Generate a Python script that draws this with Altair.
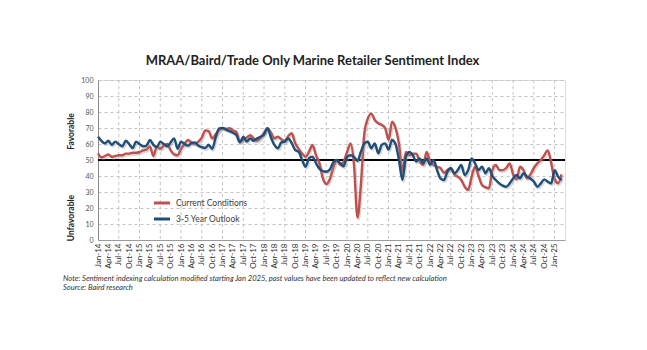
import altair as alt
import pandas as pd

# ---- data (monthly, Jan-14 .. Mar-25) ----
month_index = list(range(135))
current = [
    54.2, 51.7, 52.5, 53.5, 52, 52.5, 53, 53, 54, 54, 54.5, 54.5,
    55, 56, 56.5, 58.5, 52.5, 58.5, 57, 59, 60, 56, 53.5, 53,
    57, 60, 62.5, 61, 60, 61.5, 64, 68.5, 68, 63.5, 66, 68.5,
    70, 69.5, 69.8, 68.5, 67.5, 61.5, 62.5, 64, 65.5, 63.5, 62, 64,
    67, 69.8, 67, 63.5, 64.5, 63, 62, 65, 66.7, 60.4, 57, 54,
    52, 55.2, 59.4, 53, 47.9, 38.5, 35, 38, 45, 50, 47, 49,
    55, 60.4, 47, 14, 35, 67, 76, 79, 75, 73, 72, 70,
    62.5, 74, 70, 60, 42.7, 55, 53, 54, 54, 49, 47, 55,
    49, 47, 45.8, 45, 42, 43.7, 44.8, 41, 39.6, 37.5, 33.3, 31.3,
    39.6, 45.8, 40, 34.4, 33, 32.3, 43.7, 46.9, 43.7, 43.7, 45, 47.9,
    41, 38, 45.8, 43.7, 38.5, 41, 45, 48, 50, 53, 56, 48,
    38, 35.5, 41,
]
outlook = [
    64.6, 62, 60.5, 62, 59.5, 61.5, 60, 58.5, 62, 60, 57.5, 61.5,
    60, 58.5, 59, 62.5, 59.5, 58, 61.5, 60, 58.5, 61, 63.5, 57,
    61.5, 60, 59, 60.5, 61, 59, 58, 57.5, 59.5, 57, 64, 69.8,
    70, 69, 68, 67, 65.6, 61, 64.5, 61.5, 63.5, 62, 63.5, 64.5,
    66, 69.8, 64, 59.4, 57.3, 61, 61.5, 63.5, 60.5, 56.3, 55.2, 50,
    45.8, 51, 52.1, 48, 44.5, 43, 42.7, 44, 48.5, 50, 48, 46,
    52, 53, 52, 49.4, 55.2, 60.4, 61.4, 57.3, 60.4, 54.2, 59.4, 60.4,
    56.5, 62.5, 60, 50, 37.5, 52, 55, 53, 49, 51, 48, 51,
    47, 50, 43.7, 38.5, 37.5, 42.7, 44.8, 41.7, 43.7, 46.9, 40.6, 43.7,
    51, 47.9, 43.7, 45.8, 41.7, 44.8, 40, 37.5, 35.4, 34, 33.3, 35.4,
    38.5, 40.6, 38.5, 41.7, 39.6, 38.5, 36.5, 33.3, 35.4, 37.9, 36.5, 35.4,
    43.7, 39.6, 37.5,
]
assert len(current) == len(month_index) and len(outlook) == len(month_index)

series_names = ["Current Conditions", "3-5 Year Outlook"]
series_colors = ["#C0504D", "#1F4E79"]

tick_months = list(range(0, 133, 3))
tick_labels = [f"{m}-{y}" for y in range(14, 26) for m in ["Jan", "Apr", "Jul", "Oct"]][:len(tick_months)]
y_ticks = list(range(0, 101, 10))
grid_months = list(range(6, 133, 6))
threshold = [50]

title_text = "MRAA/Baird/Trade Only Marine Retailer Sentiment Index"
note_lines = [
    "Note: Sentiment indexing calculation modified  starting Jan 2025, past values have been updated to reflect new calculation",
    "Source: Baird research",
]
side_titles = ["Favorable", "Unfavorable"]

FONT = "Lato"
W, H = 467, 160

df = pd.DataFrame({
    "m": month_index * 2,
    "v": current + outlook,
    "s": [series_names[0]] * len(current) + [series_names[1]] * len(outlook),
})

label_js = "[" + ",".join(f"'{t}'" for t in tick_labels) + "]"

x_scale = alt.Scale(domain=[0, 135], nice=False, zero=False)
y_scale = alt.Scale(domain=[0, 100], nice=False)
color_scale = alt.Scale(domain=series_names, range=series_colors)

x_axis = alt.Axis(
    values=tick_months, labelExpr=f"{label_js}[round(datum.value/3)]",
    labelAngle=-90, labelAlign="right", labelBaseline="middle",
    labelFontSize=8, labelColor="#333333", labelFont=FONT, labelPadding=3,
    grid=False, ticks=False, domain=True, domainColor="#9a9a9a",
    labelOverlap=False, labelFlush=False, labelBound=False,
)
y_axis = alt.Axis(
    values=y_ticks, labelFontSize=7, labelColor="#555555", labelFont=FONT,
    labelPadding=5, ticks=False, grid=True, gridDash=[3, 3], gridColor="#c4c4c4",
    domain=True, domainColor="#8a8a8a", labelOverlap=False, labelFlush=False,
    labelBound=False,
)

def X(field="m"):
    return alt.X(f"{field}:Q", scale=x_scale, title=None, axis=x_axis)

def Y(field="v"):
    return alt.Y(f"{field}:Q", scale=y_scale, title=None, axis=y_axis)

vgrid = alt.Chart(pd.DataFrame({"m": grid_months})).mark_rule(
    color="#c4c4c4", strokeDash=[3, 3], strokeWidth=1
).encode(x=X())

ref = alt.Chart(pd.DataFrame({"v": threshold})).mark_rule(
    color="#000000", strokeWidth=1.8
).encode(y=Y())

legend = alt.Legend(
    orient="none", legendX=54, legendY=113, symbolType="stroke",
    symbolSize=260, symbolStrokeWidth=3, labelFontSize=8.5, labelFont=FONT,
    labelColor="#404040", rowPadding=0, padding=0, labelOffset=4,
)

def series_layer(name):
    sub = df[df["s"] == name]
    shadow = alt.Chart(sub).mark_line(
        interpolate="monotone", strokeWidth=2.6, color="#8f8f8f", opacity=0.35,
        xOffset=1.2, yOffset=1.6,
    ).encode(x=X(), y=Y(), detail="s:N")
    line = alt.Chart(sub).mark_line(interpolate="monotone", strokeWidth=2.4).encode(
        x=X(), y=Y(),
        color=alt.Color("s:N", scale=color_scale, title=None, legend=legend),
    )
    return shadow + line

side_df = pd.DataFrame({"t": side_titles, "py": [51.5, 138]})
side = alt.Chart(side_df).mark_text(
    angle=270, font=FONT, fontSize=8.5, fontWeight="bold", color="#222222",
    align="center", baseline="middle",
).encode(text="t:N", x=alt.value(-27), y=alt.Y("py:Q", scale=None))

note_df = pd.DataFrame({"t": note_lines, "py": [199, 208]})
notes = alt.Chart(note_df).mark_text(
    font=FONT, fontSize=7.6, fontStyle="italic", color="#333333",
    align="left", baseline="middle",
).encode(text="t:N", x=alt.value(-35), y=alt.Y("py:Q", scale=None))

chart = alt.layer(
    vgrid, ref, series_layer(series_names[0]), series_layer(series_names[1]), side, notes
).properties(
    width=W, height=H,
    title=alt.TitleParams(
        title_text, font=FONT, fontSize=13, fontWeight="bold", color="#222222",
        anchor="middle", dx=-19, offset=8,
    ),
    autosize=alt.AutoSizeParams(type="none"),
    padding={"left": 98, "top": 80, "right": 82, "bottom": 110},
).configure_view(stroke=None).configure(background="white")

chart.save("out.html", embed_options={"renderer": "svg", "actions": False})
